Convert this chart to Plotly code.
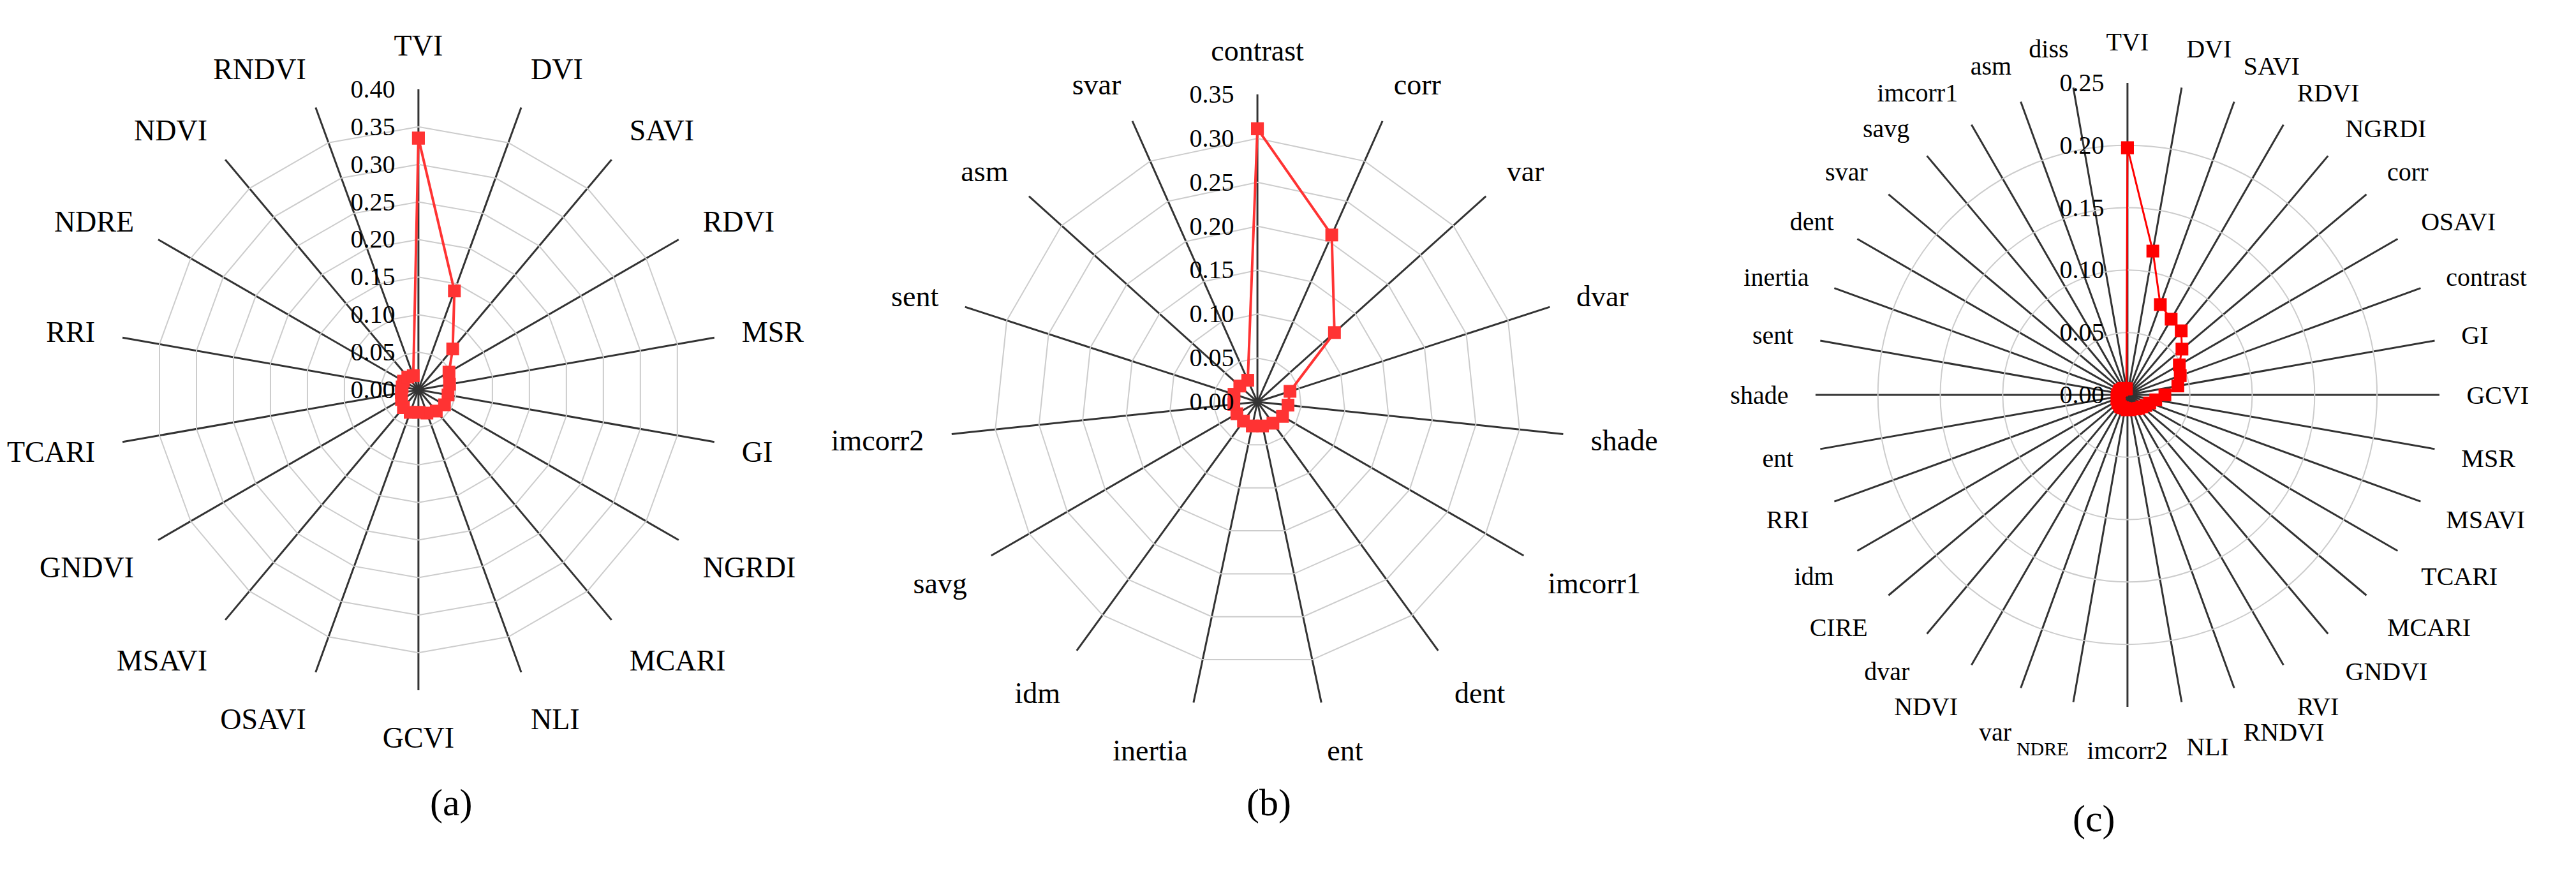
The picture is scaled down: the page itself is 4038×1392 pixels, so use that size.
import plotly.graph_objects as go

# (a) vegetation indices
cats_a = ["TVI", "DVI", "SAVI", "RDVI", "MSR", "GI", "NGRDI", "MCARI", "NLI",
          "GCVI", "OSAVI", "MSAVI", "GNDVI", "TCARI", "RRI", "NDRE", "NDVI", "RNDVI"]
vals_a = [0.335, 0.140, 0.071, 0.047, 0.042, 0.040, 0.040, 0.037, 0.033,
          0.030, 0.032, 0.031, 0.026, 0.023, 0.022, 0.023, 0.022, 0.020]

# (b) texture features
cats_b = ["contrast", "corr", "var", "dvar", "shade", "imcorr1", "dent", "ent",
          "inertia", "idm", "savg", "imcorr2", "sent", "asm", "svar"]
vals_b = [0.311, 0.208, 0.118, 0.039, 0.035, 0.033, 0.030, 0.028,
          0.028, 0.027, 0.027, 0.027, 0.028, 0.027, 0.027]

# (c) combined
cats_c = ["TVI", "DVI", "SAVI", "RDVI", "NGRDI", "corr", "OSAVI", "contrast", "GI",
          "GCVI", "MSR", "MSAVI", "TCARI", "MCARI", "GNDVI", "RVI", "RNDVI", "NLI",
          "imcorr2", "NDRE", "var", "NDVI", "dvar", "CIRE", "idm", "RRI", "ent",
          "shade", "sent", "inertia", "dent", "svar", "savg", "imcorr1", "asm", "diss"]
vals_c = [0.198, 0.117, 0.077, 0.070, 0.067, 0.057, 0.048, 0.045, 0.041,
          0.030, 0.023, 0.019, 0.017, 0.015, 0.014, 0.013, 0.012, 0.012,
          0.012, 0.011, 0.011, 0.011, 0.010, 0.010, 0.009, 0.009, 0.008,
          0.008, 0.007, 0.007, 0.007, 0.006, 0.006, 0.006, 0.005, 0.005]

ranges = [0.40, 0.35, 0.25]
captions = ["(a)", "(b)", "(c)"]

FONT = "Liberation Serif"
NB = "\u00a0"

fig = go.Figure()

panels = [
    (cats_a, vals_a, "polar", "#ff3333", 4),
    (cats_b, vals_b, "polar2", "#ff3333", 4),
    (cats_c, vals_c, "polar3", "#ff0000", 3),
]
for cats, vals, sub, color, lw in panels:
    # close the loop back to the first category
    fig.add_trace(
        go.Scatterpolar(
            r=vals + vals[:1],
            theta=cats + cats[:1],
            mode="lines+markers",
            subplot=sub,
            line=dict(color=color, width=lw),
            marker=dict(symbol="square", size=20, color=color),
            showlegend=False,
            hoverinfo="skip",
        )
    )


def polar_layout(cats, rmax, xdom, ydom, shape, spoke_w, label_size, label_gap,
                 labels=None):
    return dict(
        domain=dict(x=xdom, y=ydom),
        bgcolor="white",
        gridshape=shape,
        angularaxis=dict(
            type="category",
            categoryarray=cats,
            tickvals=cats,
            ticktext=labels or cats,
            direction="clockwise",
            rotation=90,
            showline=False,
            ticks="outside",
            ticklen=label_gap,
            tickcolor="rgba(0,0,0,0)",
            gridcolor="#333333",
            gridwidth=spoke_w,
            tickfont=dict(family=FONT, size=label_size, color="black"),
        ),
        radialaxis=dict(
            range=[0, rmax],
            dtick=0.05,
            tick0=0,
            tickformat=".2f",
            ticksuffix=NB * 3,
            tickangle=90,
            angle=90,
            side="counterclockwise",
            showline=False,
            ticks="",
            gridcolor="#cccccc",
            gridwidth=2,
            tickfont=dict(family=FONT, size=40, color="black"),
        ),
    )


# NDRE is set in a smaller size in the original (c) panel
labels_c = ['<span style="font-size:30px">NDRE</span>' if c == "NDRE" else c
            for c in cats_c]

fig.update_layout(
    width=4038,
    height=1392,
    margin=dict(l=0, r=0, t=0, b=0),
    paper_bgcolor="white",
    plot_bgcolor="white",
    polar=polar_layout(cats_a, ranges[0], [0.0438, 0.2771], [0.2284, 0.9052],
                       "linear", 3, 46, 34),
    polar2=polar_layout(cats_b, ranges[1], [0.3668, 0.6055], [0.2069, 0.8994],
                        "linear", 3, 46, 34),
    polar3=polar_layout(cats_c, ranges[2], [0.7028, 0.9450], [0.2098, 0.9124],
                        "circular", 2.5, 40, 34, labels_c),
)

cap_x = [664 / 4038, 1981 / 4038, 3310 / 4038]
cap_y = [1 - 1285 / 1392, 1 - 1285 / 1392, 1 - 1310 / 1392]
for text, x, y in zip(captions, cap_x, cap_y):
    fig.add_annotation(
        text=text, x=x, y=y, xref="paper", yref="paper",
        showarrow=False, font=dict(family=FONT, size=60, color="black"),
    )

fig.write_html("out.html")
